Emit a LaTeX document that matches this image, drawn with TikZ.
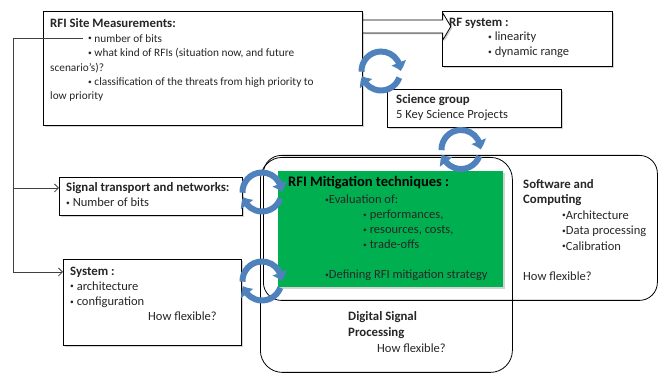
\documentclass[tikz,border=0pt]{standalone}
\usepackage{fontspec}
\setmainfont{Carlito}
\usetikzlibrary{arrows.meta,bending,shadows}
\definecolor{cycblue}{RGB}{79,129,189}
\definecolor{mitgreen}{RGB}{0,176,80}
\newcommand\bul{\raisebox{1.4pt}{\fontsize{7.5}{7.5}\selectfont•}}
\newcommand\ttl[1]{{\fontsize{12.8}{15}\selectfont\bfseries #1}}
\begin{document}
\begin{tikzpicture}[x=1pt,y=1pt,
    area/.style={draw,line width=.8pt,inner sep=0,anchor=north west},
    box/.style={draw,fill=white,line width=.8pt,inner sep=0,anchor=north west,
      drop shadow={shadow xshift=1.5pt,shadow yshift=-1.5pt,opacity=.35}},
    txt/.style={anchor=base west,inner sep=0,align=left,text=black!85,font=\fontsize{12.5}{15.3}\selectfont},
    link/.style={draw=black!75,line width=.8pt,-{Straight Barb[length=4pt,width=8pt]}},
    hollow/.style={draw,fill=white,line width=.8pt,
      drop shadow={shadow xshift=1.5pt,shadow yshift=-1.5pt,opacity=.35}},
    cyc/.style={draw=cycblue,line width=6pt,-{Triangle[width=15pt,length=8.5pt,bend]}}]
  \useasboundingbox(0,0)rectangle(659,374);
  \node[area,rounded corners=18pt,minimum width=394,minimum height=145](soft)at(263,219){};
  \node[area,rounded corners=22pt,minimum width=252,minimum height=215](dsp)at(260,217){};
  \node[box,draw=none,fill=mitgreen,minimum width=225,minimum height=116](mitig)at(278,203){};
  \node[box,minimum width=319,minimum height=114](site)at(43,363){};
  \node[box,minimum width=170,minimum height=55](rf)at(442,363){};
  \node[box,minimum width=174,minimum height=38](science)at(387,285){};
  \node[box,minimum width=183,minimum height=38](signal)at(59,197){};
  \node[box,minimum width=178,minimum height=86](system)at(63,115){};

  \node[txt,font=\fontsize{11.3}{14.4}\selectfont](siteT)at(50,274){\ttl{RFI Site Measurements:}\\
    \hspace*{38pt}\bul{} number of bits\\
    \hspace*{38pt}\bul{} what kind of RFIs (situation now, and future\\
    scenario’s)?\\
    \hspace*{38pt}\bul{} classification of the threats from high priority to\\
    low priority};
  \node[txt,font=\fontsize{12.5}{14.6}\selectfont](rfT)at(449,318.5){\ttl{RF system :}\\
    \hspace*{39pt}\bul{} linearity\\
    \hspace*{39pt}\bul{} dynamic range};
  \node[txt](scienceT)at(396,255.5){\ttl{Science group}\\5 Key Science Projects};
  \node[txt](signalT)at(66,167.5){\ttl{Signal transport and networks:}\\\bul{} Number of bits};
  \node[txt](systemT)at(70,53){\ttl{System :}\\
    \bul{} architecture\\
    \bul{} configuration\\
    \hspace*{78pt}How flexible?};
  \node[txt,text=black,font=\fontsize{14.5}{15}\selectfont\bfseries](mitigH)at(288,187){RFI Mitigation techniques :};
  \node[txt,font=\fontsize{12.5}{15}\selectfont](mitigT)at(288,95){\hspace*{37pt}\bul Evaluation of:\\
    \hspace*{75pt}\bul{} performances,\\
    \hspace*{75pt}\bul{} resources, costs,\\
    \hspace*{75pt}\bul{} trade-offs\\[15pt]
    \hspace*{37pt}\bul Defining RFI mitigation strategy};
  \node[txt,font=\fontsize{12.5}{15.4}\selectfont](softT)at(523,93){\ttl{Software and}\\
    \ttl{Computing}\\
    \hspace*{39pt}\bul Architecture\\
    \hspace*{39pt}\bul Data processing\\
    \hspace*{39pt}\bul Calibration\\[15.4pt]
    How flexible?};
  \node[txt,font=\fontsize{12.5}{16}\selectfont](dspT)at(348,21){\ttl{Digital Signal}\\
    \ttl{Processing}\\
    \hspace*{29pt}How flexible?};

  \draw[hollow](site.north east)++(0,-9)--++(80,0)--++(0,7)--++(8,-13.5)--++(-8,-13.5)--++(0,7)--++(-80,0)--cycle;

  \coordinate(tap)at(83,336);
  \coordinate(bend)at(13,102);
  \coordinate(sigIn)at([yshift=-11pt]signal.north west);
  \coordinate(sysIn)at([yshift=-13pt]system.north west);
  \draw[link](tap)-|(bend)--(sysIn);
  \draw[link](sigIn-|bend)--(sigIn);

  \foreach \x/\y in{381/303,461/224.5,262/182,262/93}{%
    \draw[cyc](\x,\y)++(182:19.5)arc[start angle=182,end angle=0,radius=19.5];
    \draw[cyc](\x,\y)++(-20:19.5)arc[start angle=-20,end angle=-165,radius=19.5];
  }
\end{tikzpicture}
\end{document}
